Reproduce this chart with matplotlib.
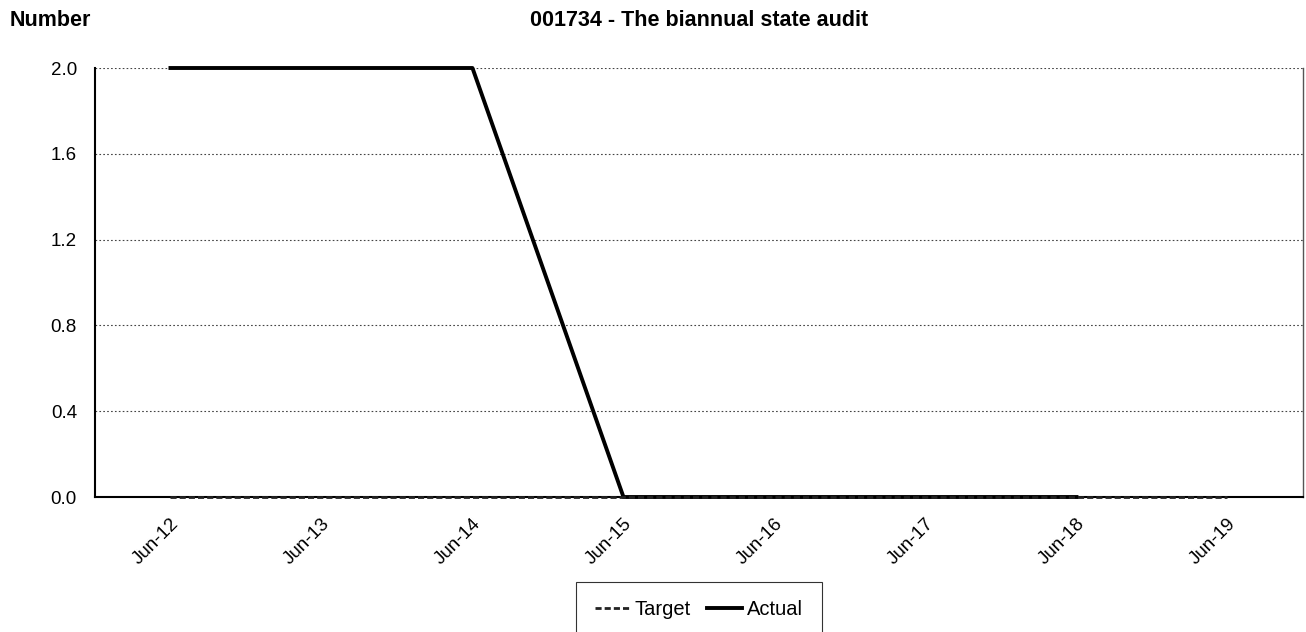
import numpy as np
import matplotlib.pyplot as plt

plt.rcParams['font.family'] = ['Liberation Sans', 'DejaVu Sans']

months = ["Jun-12", "Jun-13", "Jun-14", "Jun-15", "Jun-16", "Jun-17", "Jun-18", "Jun-19"]
target = [0, 0, 0, 0, 0, 0, 0, 0]
actual = [2, 2, 2, 0, 0, 0, 0]
y_ticks = [0.0, 0.4, 0.8, 1.2, 1.6, 2.0]

fig = plt.figure(figsize=(13.06, 6.32), dpi=100)
ax = fig.add_axes([0.0727, 0.2136, 0.925, 0.6788])

x = np.arange(len(months))
ax.plot(x, target, color="#222222", linestyle=(0, (2.2, 1.1)), linewidth=2.0, label="Target",
        zorder=5, clip_on=False)
ax.plot(x[:len(actual)], actual, color="black", linewidth=2.8, label="Actual", zorder=4,
        clip_on=False)

ax.set_xlim(-0.5, len(months) - 0.5)
ax.set_ylim(0, 2.0)
ax.set_yticks(y_ticks)
ax.set_yticklabels([f"{v:.1f}" for v in y_ticks], fontsize=13.5)
ax.set_xticks(x)
ax.set_xticklabels(months, rotation=45, ha="right", rotation_mode="anchor", fontsize=13.5)
ax.tick_params(axis="y", length=0, pad=13)
ax.tick_params(axis="x", length=0, pad=13)
for lbl in ax.get_xticklabels():
    lbl.set_x(lbl.get_position()[0])

for v in y_ticks[1:]:
    ax.axhline(v, color="#444444", linestyle=(0, (1.5, 2)), linewidth=0.8, zorder=1)

ax.spines["top"].set_visible(False)
ax.spines["left"].set_linewidth(1.5)
ax.spines["bottom"].set_linewidth(1.5)
ax.spines["right"].set_color("#555555")
ax.spines["right"].set_linewidth(1.0)

fig.text(0.0077, 0.967, "Number", fontsize=15.5, fontweight="bold", va="center")
fig.text(0.535, 0.967, "001734 - The biannual state audit", fontsize=15.5, fontweight="bold",
         ha="center", va="center")

leg = ax.legend(loc="upper center", bbox_to_anchor=(0.5, -0.198), ncol=2, frameon=True,
                fancybox=False, edgecolor="black", fontsize=14.5, handlelength=1.75,
                handletextpad=0.25, columnspacing=0.8, borderpad=0.9, borderaxespad=0)
leg.get_frame().set_linewidth(0.8)

fig.savefig("out.png", dpi=100)
